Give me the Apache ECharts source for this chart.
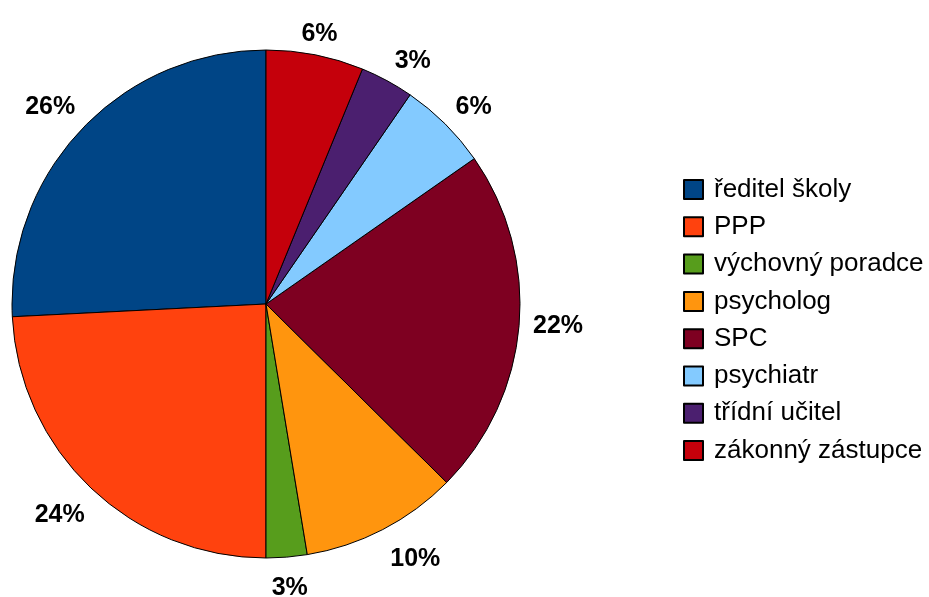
<!DOCTYPE html>
<html>
<head>
<meta charset="utf-8">
<script src="https://cdn.jsdelivr.net/npm/echarts@6/dist/echarts.min.js"></script>
<style>html,body{margin:0;padding:0;background:#fff}#c{width:929px;height:597px}</style>
</head>
<body>
<div id="c"></div>
<script>
var categories = ['ředitel školy', 'PPP', 'výchovný poradce', 'psycholog', 'SPC', 'psychiatr', 'třídní učitel', 'zákonný zástupce'];
var values = [25.8, 24.2, 2.6, 10.0, 22.1, 5.7, 3.4, 6.2];
var colors = ['#004586', '#ff420e', '#579d1c', '#ff950e', '#7e0021', '#83caff', '#4b1f6f', '#c5000b'];

var CX = 266, CY = 304, R = 254, START = 90, LABEL_GAP = 12;

var chart = echarts.init(document.getElementById('c'), null, {renderer: 'canvas'});
var mainData = categories.map(function (n, i) {
  return {name: n, value: values[i], itemStyle: {color: colors[i]}};
});
var total = values.reduce(function (a, b) { return a + b; }, 0);

function labelLayout(params) {
  var i = params.dataIndex;
  var cum = 0;
  for (var k = 0; k < i; k++) cum += values[k];
  var mid = (START + 360 * (cum + values[i] / 2) / total) * Math.PI / 180;
  var ux = Math.cos(mid), uy = Math.sin(mid);
  var t = R + LABEL_GAP;
  var x = CX + t * ux + 2, y = CY - t * uy;
  var lim = 0.383;
  var align = ux > lim ? 'left' : (ux < -lim ? 'right' : 'center');
  var valign = uy > lim ? 'bottom' : (uy < -lim ? 'top' : 'middle');
  if (valign === 'bottom') y += (ux < -lim ? -1 : 4);
  if (valign === 'top') y += 6;
  return {x: x, y: y, align: align, verticalAlign: valign};
}

chart.setOption({
  animation: false,
  backgroundColor: '#fff',
  legend: {
    orient: 'vertical',
    left: 683,
    top: 176.5,
    padding: 0,
    itemWidth: 19,
    itemHeight: 19,
    itemGap: 11.3,
    icon: 'rect',
    data: categories,
    selectedMode: false,
    textStyle: {fontFamily: 'Liberation Sans', fontSize: 26, color: '#000', lineHeight: 26, padding: [0, 0, 0, 6]}
  },
  series: [{
    type: 'pie',
    center: [CX, CY],
    radius: [0, R],
    startAngle: START,
    clockwise: false,
    silent: true,
    avoidLabelOverlap: false,
    data: mainData,
    itemStyle: {borderColor: '#000', borderWidth: 1},
    label: {
      show: true,
      position: 'outside',
      fontFamily: 'Liberation Sans',
      fontWeight: 'bold',
      fontSize: 25,
      color: '#000',
      formatter: function (p) { return Math.round(p.percent) + '%'; }
    },
    labelLine: {show: false},
    labelLayout: labelLayout,
    emphasis: {disabled: true}
  }]
});
</script>
</body>
</html>
